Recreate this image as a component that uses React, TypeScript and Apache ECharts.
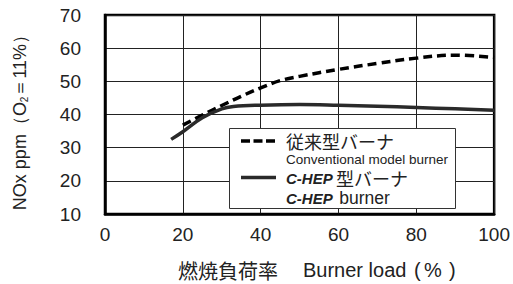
import React, { useEffect, useRef } from "react";
import * as echarts from "echarts";

const convLoad = [20, 25, 30, 35, 40, 45, 50, 60, 70, 80, 90, 100];
const convNox = [36.8, 39.8, 42.7, 45.5, 48, 50.2, 51.5, 53.6, 55.4, 57, 57.9, 57.2];
const hepLoad = [17, 20, 25, 30, 33, 40, 50, 60, 70, 80, 90, 100];
const hepNox = [32.5, 34.8, 39.0, 41.7, 42.4, 42.8, 43.0, 42.8, 42.5, 42.1, 41.7, 41.3];
const xTicks = { min: 0, max: 100, interval: 20 };
const yTicks = { min: 10, max: 70, interval: 10 };

const legendConv = "従来型バーナ";
const legendConvEn = "Conventional model burner";
const legendHep = "型バーナ";
const legendHepEn = "burner";
const hepName = "C-HEP";

const SANS = "'Liberation Sans', Arial, sans-serif";
const CJK = "'Noto Sans CJK JP', sans-serif";

export default function App() {
  const ref = useRef<HTMLDivElement>(null);
  useEffect(() => {
    if (!ref.current) return;
    const chart = echarts.init(ref.current, undefined, { renderer: "svg" });
    const tickLabel = { fontFamily: SANS, fontSize: 19, color: "#222" };
    const titleText = (text: string, x: number, family: string) => ({
      type: "text",
      x,
      y: 270,
      style: { text, font: `20px ${family}`, fill: "#222", verticalAlign: "middle", lineHeight: 20 },
    });
    chart.setOption({
      animation: false,
      backgroundColor: "#fff",
      grid: {
        left: 105,
        right: 14,
        top: 15,
        bottom: 70,
        show: true,
        borderColor: "#000",
        borderWidth: 2.5,
        backgroundColor: "transparent",
      },
      xAxis: {
        type: "value",
        ...xTicks,
        axisLine: { show: true, lineStyle: { color: "#000", width: 2.5 } },
        axisTick: { show: false },
        splitLine: { show: true, lineStyle: { color: "#222", width: 1 } },
        axisLabel: { ...tickLabel, margin: 11 },
      },
      yAxis: {
        type: "value",
        ...yTicks,
        axisLine: { show: true, lineStyle: { color: "#000", width: 2.5 } },
        axisTick: { show: false },
        splitLine: { show: true, lineStyle: { color: "#222", width: 1 } },
        axisLabel: { ...tickLabel, margin: 24 },
      },
      series: [
        {
          type: "line",
          data: convLoad.map((x, i) => [x, convNox[i]]),
          smooth: 0.4,
          showSymbol: false,
          lineStyle: { color: "#000", width: 3.5, type: [9, 5] },
          z: 5,
        },
        {
          type: "line",
          data: hepLoad.map((x, i) => [x, hepNox[i]]),
          smooth: 0.4,
          showSymbol: false,
          lineStyle: { color: "#2a2a2a", width: 3.5 },
          z: 6,
        },
      ],
      graphic: [
        {
          type: "rect",
          z: 100,
          shape: { x: 229.5, y: 128.5, width: 226, height: 80 },
          style: { fill: "#fff", stroke: "#333", lineWidth: 1 },
        },
        {
          type: "line",
          z: 101,
          shape: { x1: 241, y1: 141, x2: 276, y2: 141 },
          style: { stroke: "#000", lineWidth: 3.5, lineDash: [9, 3.5] },
        },
        {
          type: "line",
          z: 101,
          shape: { x1: 241, y1: 177.5, x2: 276, y2: 177.5 },
          style: { stroke: "#2a2a2a", lineWidth: 3.5 },
        },
        {
          type: "text",
          z: 101,
          x: 286,
          y: 141,
          style: {
            text: legendConv,
            font: `18px ${CJK}`,
            fill: "#222",
            verticalAlign: "middle",
            lineHeight: 18,
          },
        },
        {
          type: "text",
          z: 101,
          x: 286,
          y: 159.5,
          style: {
            text: legendConvEn,
            font: `13.5px ${SANS}`,
            fill: "#222",
            verticalAlign: "middle",
            lineHeight: 14,
          },
        },
        {
          type: "text",
          z: 101,
          x: 286,
          y: 188,
          style: {
            text: `{b|${hepName}} {c|${legendHep}}\n{b|${hepName}}  {d|${legendHepEn}}`,
            verticalAlign: "middle",
            rich: {
              b: { fontFamily: SANS, fontSize: 15, fontWeight: "bold", fontStyle: "italic", fill: "#222", lineHeight: 20 },
              c: { fontFamily: CJK, fontSize: 18, fill: "#222", lineHeight: 20 },
              d: { fontFamily: SANS, fontSize: 17.5, fill: "#222", lineHeight: 20 },
            },
          },
        },
        titleText("燃焼負荷率", 178, CJK),
        titleText("Burner load", 303, SANS),
        titleText("(", 414, SANS),
        titleText("%", 424, SANS),
        titleText(")", 449, SANS),
        {
          type: "text",
          x: 20,
          y: 118,
          rotation: Math.PI / 2,
          style: {
            text: "{a|NOx ppm（O}{s|2}{a|＝11%）}",
            align: "center",
            verticalAlign: "middle",
            rich: {
              a: { fontFamily: SANS, fontSize: 18, fill: "#222", lineHeight: 22 },
              s: { fontFamily: SANS, fontSize: 10, fill: "#222", lineHeight: 22, verticalAlign: "bottom", padding: [0, 0, 2, 0] },
            },
          },
        },
      ],
    });
    return () => chart.dispose();
  }, []);
  return <div ref={ref} style={{ position: "fixed", left: 0, top: 0, width: 513, height: 284 }} />;
}
